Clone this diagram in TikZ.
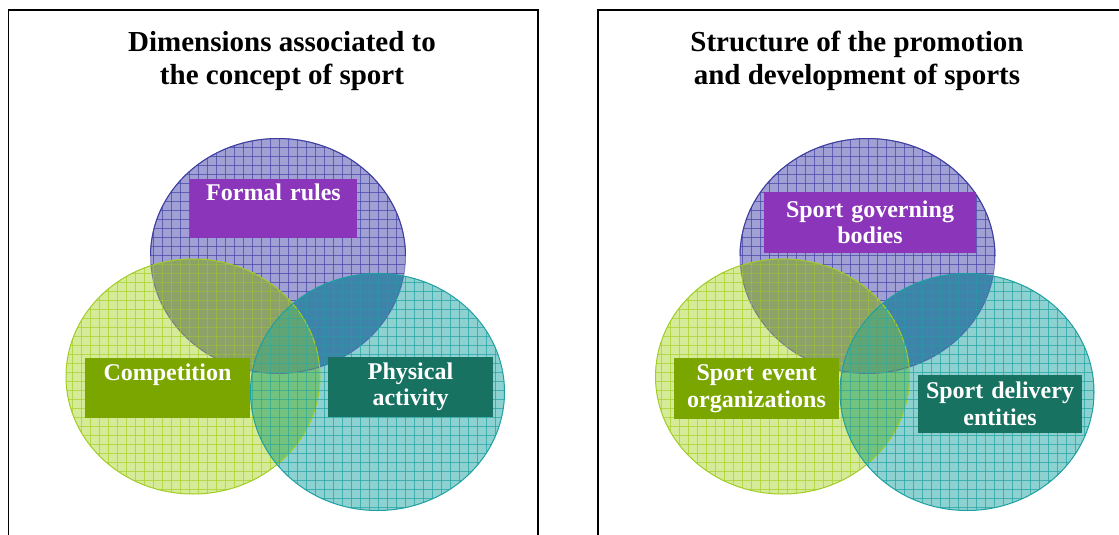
\documentclass[tikz,border=0pt]{standalone}
\usepackage{fontspec}
\setmainfont{Liberation Serif}
\definecolor{bluefill}{RGB}{160,160,212}
\definecolor{blueline}{RGB}{72,72,170}
\definecolor{blueedge}{RGB}{62,62,160}
\definecolor{greenfill}{RGB}{214,235,152}
\definecolor{greenline}{RGB}{170,210,50}
\definecolor{greenedge}{RGB}{160,204,36}
\definecolor{tealfill}{RGB}{142,209,209}
\definecolor{tealline}{RGB}{40,165,165}
\definecolor{tealedge}{RGB}{30,160,160}
\definecolor{bgover}{RGB}{140,162,104}
\definecolor{btover}{RGB}{62,132,170}
\definecolor{gtover}{RGB}{114,194,128}
\definecolor{allover}{RGB}{96,165,118}
\definecolor{purplebox}{RGB}{139,53,186}
\definecolor{greenbox}{RGB}{123,166,0}
\definecolor{tealbox}{RGB}{23,114,98}
\tikzset{
  frameline/.style={line width=1.6pt, black},
  titletext/.style={font=\bfseries\fontsize{29}{33}\selectfont, align=center, anchor=north, inner sep=0pt},
  labbox/.style={font=\bfseries\fontsize{24}{26.5}\selectfont, text=white, align=center, inner sep=0pt},
  bR/.style={x radius=127.5, y radius=117.5},
  gR/.style={x radius=127, y radius=117.5},
  tR/.style={x radius=127, y radius=118.5},
  gridline/.style={line width=0.9pt, opacity=0.75},
}
% grid clipped to the current clip
\newcommand\gridlines[1]{%
  \foreach \g in {0,9,...,540} {\draw[gridline, #1] (\g,120) -- (\g,520);}
  \foreach \g in {3,12,...,520} {\draw[gridline, #1] (0,\g) -- (540,\g);}}
% #1 prefix
\newcommand\venn[1]{%
  \coordinate (#1b) at (278,256);
  \coordinate (#1g) at (193,376.5);
  \coordinate (#1t) at (377.5,392);
  \fill[bluefill] (#1b) ellipse [bR];
  \fill[greenfill] (#1g) ellipse [gR];
  \fill[tealfill] (#1t) ellipse [tR];
  \begin{scope}\clip (#1b) ellipse [bR]; \fill[bgover] (#1g) ellipse [gR];\end{scope}
  \begin{scope}\clip (#1b) ellipse [bR]; \fill[btover] (#1t) ellipse [tR];\end{scope}
  \begin{scope}\clip (#1g) ellipse [gR]; \fill[gtover] (#1t) ellipse [tR];\end{scope}
  \begin{scope}\clip (#1b) ellipse [bR]; \clip (#1g) ellipse [gR]; \fill[allover] (#1t) ellipse [tR];\end{scope}
  \begin{scope}\clip (#1b) ellipse [bR]; \gridlines{blueline}\end{scope}
  \draw[blueedge, line width=1pt, opacity=0.45] (#1b) ellipse [bR];
  \begin{scope}\clip (#1g) ellipse [gR]; \gridlines{greenline}\end{scope}
  \draw[greenedge, line width=1pt] (#1g) ellipse [gR];
  \begin{scope}\clip (#1t) ellipse [tR]; \gridlines{tealline}\end{scope}
  \draw[tealedge, line width=1pt] (#1t) ellipse [tR];
  \draw[blueedge, line width=1pt] (#1b) ++(-127.5,0) arc[start angle=180, end angle=360, bR];}
\begin{document}
\begin{tikzpicture}[x=1pt, y=-1pt]
\useasboundingbox (0,0) rectangle (1119,535);
\fill[white] (0,0) rectangle (1119,535);
% frames
\draw[frameline] (8.5,545) -- (8.5,10) -- (538,10) -- (538,545);
\draw[frameline] (598,545) -- (598,10) -- (1130,10);
% titles
\node[titletext] (t1) at (282,31) {Dimensions associated to\\the concept of sport};
\node[titletext] (t2) at (857,31) {Structure of the promotion\\and development of sports};
% venn diagrams
\begin{scope}
  \venn{l}
\end{scope}
\begin{scope}[shift={(589.5,0)}]
  \venn{r}
\end{scope}
% labels left
\node[labbox, fill=purplebox, text width=167pt, minimum height=59pt] (formal) at (273.5,208.5) {Formal rules\\\phantom{Xy}};
\node[labbox, fill=greenbox, text width=165pt, minimum height=60pt] (comp) at (167.5,388) {Competition\\\phantom{Xy}};
\node[labbox, fill=tealbox, text width=165pt, minimum height=60pt] (phys) at (410.5,387) {Physical\\activity};
% labels right
\node[labbox, fill=purplebox, text width=212pt, minimum height=61pt] (gov) at (870,222.5) {Sport governing\\bodies};
\node[labbox, fill=greenbox, text width=165pt, minimum height=61pt] (event) at (756.5,388.5) {Sport event\\organizations};
\node[labbox, fill=tealbox, text width=164pt, minimum height=58pt] (deliv) at (1000,404) {Sport delivery\\entities};
\end{tikzpicture}
\end{document}
